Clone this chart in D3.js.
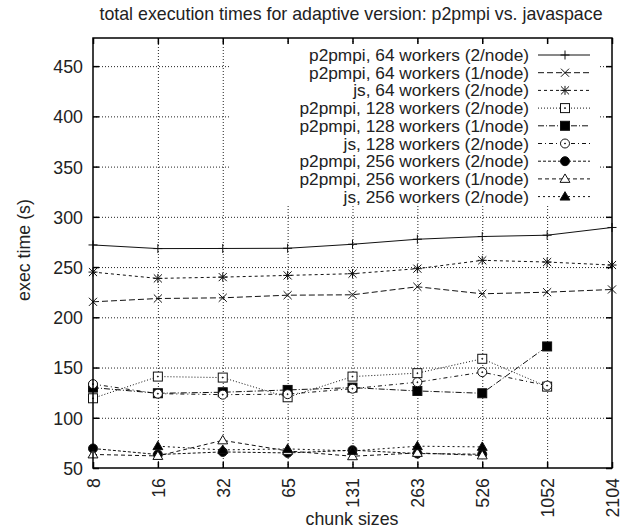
<!DOCTYPE html>
<meta charset="utf-8">
<head>
    <title></title>
    <script src="https://cdn.jsdelivr.net/npm/d3@7/dist/d3.min.js"></script>
</head>
<style>
    body{ margin:0; background:#fff; }
    text{ font-family: "Liberation Sans", Arial, sans-serif; fill:#222; }
</style>
<svg width="628" height="529"></svg>
<script>
    // chunk sizes on the x axis
    var chunks = ["8","16","32","65","131","263","526","1052","2104"];
    var yTicks = [50,100,150,200,250,300,350,400,450];

    // exec times (s), null = not measured
    var p2p64two  = [272, 268.4, 268.5, 268.7, 272.7, 277.7, 280.4, 281.7, 289.4];
    var p2p64one  = [215.4, 218.7, 219.4, 222, 222.4, 230.4, 223.4, 225, 227.7];
    var js64      = [245, 238.7, 240, 241.7, 243.4, 248.4, 256.7, 255, 252];
    var p2p128two = [119.4, 141, 140, 120.4, 141, 144.4, 158.7, 131];
    var p2p128one = [130, 124.4, 125.4, 127.7, 130, 126.7, 124.4, 171];
    var js128     = [133.5, 124, 123, 123.5, 129, 135.4, 145.4, 132];
    var p2p256two = [69.4, 63.4, 66, 65, 67.7, 64.4, 63.7];
    var p2p256one = [63.5, 62, 77.5, 67, 61.7, 65, 62.5];
    var js256     = [null, 71.7, 68, 69, 67, 71.7, 71];

    var series = [
        {name:'p2pmpi, 64 workers (2/node)',  v:p2p64two,  dash:null,          mark:'plus'},
        {name:'p2pmpi, 64 workers (1/node)',  v:p2p64one,  dash:'6,3',         mark:'cross'},
        {name:'js, 64 workers (2/node)',      v:js64,      dash:'3,3',         mark:'star'},
        {name:'p2pmpi, 128 workers (2/node)', v:p2p128two, dash:'1,2',         mark:'box'},
        {name:'p2pmpi, 128 workers (1/node)', v:p2p128one, dash:'6,2,1,2',     mark:'fbox'},
        {name:'js, 128 workers (2/node)',     v:js128,     dash:'4,3,1,3',     mark:'circle'},
        {name:'p2pmpi, 256 workers (2/node)', v:p2p256two, dash:'3,2',         mark:'fcircle'},
        {name:'p2pmpi, 256 workers (1/node)', v:p2p256one, dash:'4,3',         mark:'tri'},
        {name:'js, 256 workers (2/node)',     v:js256,     dash:'2,3',         mark:'ftri'}
    ];

    var pl = 93, pr = 612, pt = 38, pb = 468,
        fs = '17.8px';

    var svg = d3.select('svg');

    var x = d3.scalePoint().domain(chunks).range([pl, pr]);
    var y = d3.scaleLinear().domain([50, 478]).range([pb, pt]);

    // grid
    var grid = svg.append('g').attr('class','grid');
    grid.append('g').attr('transform','translate('+pl+',0)')
        .call(d3.axisLeft(y).tickValues(yTicks.slice(1)).tickSize(-(pr-pl)).tickFormat(''));
    grid.append('g').attr('transform','translate(0,'+pb+')')
        .call(d3.axisBottom(x).tickValues(chunks.slice(1, -1)).tickSize(-(pb-pt)).tickFormat(''));
    grid.selectAll('.domain').remove();
    grid.selectAll('line').style('stroke','#222').style('stroke-width',1).style('stroke-dasharray','1,2');

    // series
    function marker(g, type, cx, cy){
        var s = 4.5;
        if(type=='plus' || type=='star'){
            g.append('path').attr('d','M'+(cx-s)+','+cy+'H'+(cx+s)+'M'+cx+','+(cy-s)+'V'+(cy+s));
        }
        if(type=='cross' || type=='star'){
            var c = s*0.9;
            g.append('path').attr('d','M'+(cx-c)+','+(cy-c)+'L'+(cx+c)+','+(cy+c)+'M'+(cx-c)+','+(cy+c)+'L'+(cx+c)+','+(cy-c));
        }
        if(type=='box' || type=='fbox'){
            g.append('rect').attr('x',cx-s).attr('y',cy-s).attr('width',2*s).attr('height',2*s)
                .style('fill', type=='fbox' ? '#000' : '#fff');
            if(type=='box') g.append('circle').attr('cx',cx).attr('cy',cy).attr('r',0.5).style('fill','#000');
        }
        if(type=='circle' || type=='fcircle'){
            g.append('circle').attr('cx',cx).attr('cy',cy).attr('r',s)
                .style('fill', type=='fcircle' ? '#000' : '#fff');
            if(type=='circle') g.append('circle').attr('cx',cx).attr('cy',cy).attr('r',0.5).style('fill','#000');
        }
        if(type=='tri' || type=='ftri'){
            var t = s*1.1;
            g.append('path').attr('d','M'+cx+','+(cy-t)+'L'+(cx+t)+','+(cy+t*0.7)+'L'+(cx-t)+','+(cy+t*0.7)+'Z')
                .style('fill', type=='ftri' ? '#000' : '#fff');
        }
    }

    var plot = svg.append('g');
    series.forEach(function(s){
        var pts = s.v.map(function(v,i){ return {c:chunks[i], v:v}; }).filter(function(d){ return d.v != null; });
        var line = d3.line().x(function(d){ return x(d.c); }).y(function(d){ return y(d.v); });
        plot.append('path').attr('d', line(pts))
            .style('fill','none').style('stroke','#111').style('stroke-width',1)
            .style('stroke-dasharray', s.dash);
        var mg = plot.append('g').style('stroke','#111').style('stroke-width',1).style('fill','none');
        pts.forEach(function(d){ marker(mg, s.mark, x(d.c), y(d.v)); });
    });

    // key with opaque background
    var key = svg.append('g');
    key.append('rect').attr('x',230).attr('y',44).attr('width',370).attr('height',162).style('fill','#fff');
    series.forEach(function(s,i){
        var ky = 55 + i*17.7;
        key.append('text').attr('x',529).attr('y',ky).attr('dy','0.35em')
            .attr('text-anchor','end').style('font-size','17.3px').text(s.name);
        key.append('path').attr('d','M538,'+ky+'H590')
            .style('fill','none').style('stroke','#111').style('stroke-width',1)
            .style('stroke-dasharray', s.dash);
        var mg = key.append('g').style('stroke','#111').style('stroke-width',1).style('fill','none');
        marker(mg, s.mark, 565, ky);
    });

    // border and ticks
    var axes = svg.append('g');
    var yl = axes.append('g').attr('transform','translate('+pl+',0)')
        .call(d3.axisLeft(y).tickValues(yTicks).tickSizeInner(-6).tickSizeOuter(0).tickPadding(10));
    axes.append('g').attr('transform','translate('+pr+',0)')
        .call(d3.axisRight(y).tickValues(yTicks).tickSizeInner(-6).tickSizeOuter(0).tickFormat(''));
    var xl = axes.append('g').attr('transform','translate(0,'+pb+')')
        .call(d3.axisBottom(x).tickSizeInner(-6).tickSizeOuter(0).tickPadding(10));
    axes.append('g').attr('transform','translate(0,'+pt+')')
        .call(d3.axisTop(x).tickSizeInner(-6).tickSizeOuter(0).tickFormat(''));
    axes.selectAll('.domain').remove();
    axes.selectAll('line').style('stroke','#000').style('stroke-width',1.5);
    axes.selectAll('text').style('font-size',fs).style('fill','#222').attr('font-family',null);
    yl.selectAll('text').attr('dy','0.36em');
    xl.selectAll('text')
        .attr('transform','rotate(-90)')
        .attr('y',0).attr('x',-10).attr('dy','0.36em')
        .style('text-anchor','end');
    axes.append('rect').attr('x',pl).attr('y',pt).attr('width',pr-pl).attr('height',pb-pt)
        .style('fill','none').style('stroke','#000').style('stroke-width',1.5);

    // titles
    svg.append('text').attr('x',351).attr('y',20).attr('text-anchor','middle')
        .style('font-size',fs).text('total execution times for adaptive version: p2pmpi vs. javaspace');
    svg.append('text').attr('transform','translate(30,250) rotate(-90)').attr('text-anchor','middle')
        .style('font-size',fs).text('exec time (s)');
    svg.append('text').attr('x',352).attr('y',525).attr('text-anchor','middle')
        .style('font-size',fs).text('chunk sizes');
</script>
